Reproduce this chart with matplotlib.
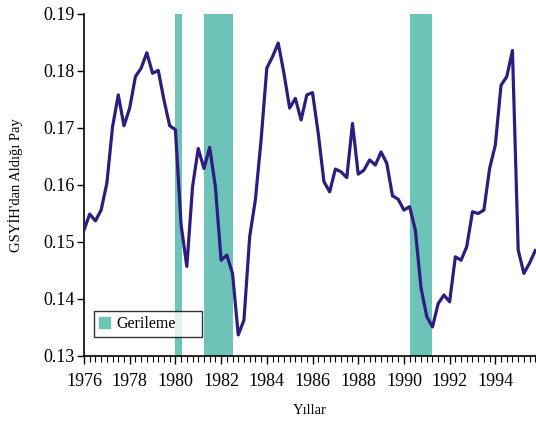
import numpy as np
import matplotlib
matplotlib.use('Agg')
import matplotlib.pyplot as plt
from matplotlib.patches import Patch
from matplotlib.ticker import MultipleLocator, FormatStrFormatter

# quarterly data, 1976Q1 onwards
start_year = 1976
share = [
    0.1521, 0.1549, 0.1537, 0.1556, 0.1603, 0.1702, 0.1758, 0.1704,
    0.1735, 0.1790, 0.1805, 0.1832, 0.1796, 0.1801, 0.1749, 0.1704,
    0.1697, 0.1530, 0.1457, 0.1597, 0.1664, 0.1629, 0.1666, 0.1597,
    0.1468, 0.1477, 0.1445, 0.1337, 0.1363, 0.1509, 0.1574, 0.1679,
    0.1805, 0.1825, 0.1849, 0.1796, 0.1735, 0.1752, 0.1714, 0.1758,
    0.1762, 0.1691, 0.1606, 0.1588, 0.1628, 0.1623, 0.1613, 0.1708,
    0.1619, 0.1626, 0.1644, 0.1635, 0.1658, 0.1638, 0.1581, 0.1575,
    0.1556, 0.1562, 0.1521, 0.1419, 0.1369, 0.1351, 0.1392, 0.1407,
    0.1395, 0.1474, 0.1468, 0.1492, 0.1553, 0.1550, 0.1556, 0.1629,
    0.1670, 0.1775, 0.1790, 0.1836, 0.1486, 0.1445, 0.1463, 0.1485,
]
recessions = [(1980.0, 1980.3), (1981.25, 1982.5), (1990.25, 1991.25)]
year_ticks = [1976, 1978, 1980, 1982, 1984, 1986, 1988, 1990, 1992, 1994]

line_color = '#2e1c80'
band_color = '#6ec3b9'

plt.rcParams['font.family'] = ['Liberation Serif', 'DejaVu Serif']

fig = plt.figure(figsize=(5.36, 4.21), dpi=100)
ax = fig.add_axes([0.1567, 0.1544, 0.8433, 0.8124])

t = start_year + 0.25 * np.arange(len(share))

for a, b in recessions:
    ax.axvspan(a, b, color=band_color, lw=0, zorder=1)

ax.plot(t, share, color=line_color, lw=2.3, zorder=3)

ax.set_xlim(1976, 1995.78)
ax.set_ylim(0.13, 0.19)

ax.spines['top'].set_visible(False)
ax.spines['right'].set_visible(False)
ax.spines['left'].set_linewidth(1.2)
ax.spines['bottom'].set_linewidth(1.2)

ax.set_xticks(year_ticks)
ax.xaxis.set_minor_locator(MultipleLocator(0.25))
ax.yaxis.set_major_locator(MultipleLocator(0.01))
ax.yaxis.set_major_formatter(FormatStrFormatter('%.2f'))
ax.tick_params(axis='x', which='major', length=6, width=1, labelsize=13, pad=6)
ax.tick_params(axis='x', which='minor', length=4, width=0.8)
ax.tick_params(axis='y', length=5, width=1, labelsize=13, pad=2)

ax.set_xlabel('Yıllar', fontsize=10.5, labelpad=10)
ax.set_ylabel("GSYİH'dan Aldığı Pay", fontsize=10.5, labelpad=14)

leg = ax.legend(handles=[Patch(color=band_color, label='Gerileme')],
                loc='lower left', bbox_to_anchor=(0.022, 0.056, 0.239, 0.065),
                mode='expand', borderaxespad=0, fancybox=False,
                handlelength=0.7, handleheight=0.7, handletextpad=0.4,
                fontsize=11.5, borderpad=0.3)
leg.get_frame().set_edgecolor('black')
leg.get_frame().set_linewidth(1.0)

fig.savefig('out.png', dpi=100)
